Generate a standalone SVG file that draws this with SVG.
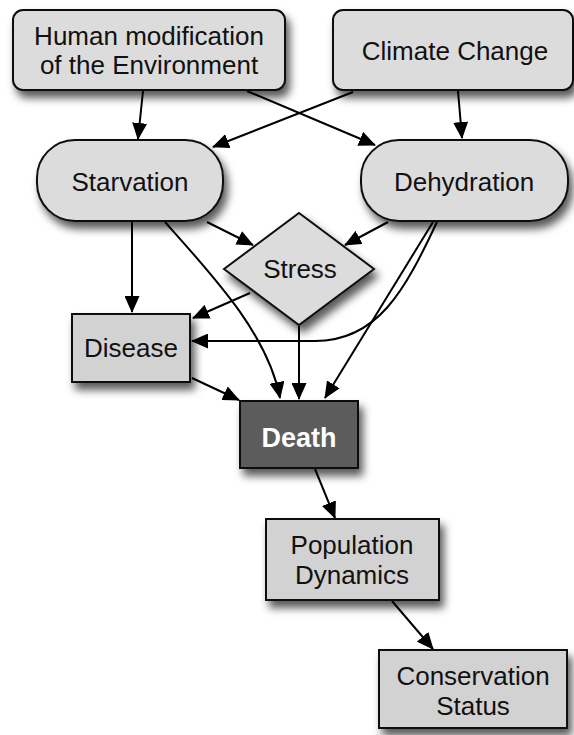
<svg xmlns="http://www.w3.org/2000/svg" width="574" height="735" viewBox="0 0 574 735">
<defs>
<filter id="sh" x="-20%" y="-20%" width="150%" height="160%">
<feDropShadow dx="4" dy="7" stdDeviation="4.5" flood-color="#000" flood-opacity="0.65"/>
</filter>
<marker id="ah" markerUnits="userSpaceOnUse" markerWidth="17" markerHeight="15" refX="16" refY="7.5" orient="auto">
<path d="M0,0 L17,7.5 L0,15 z" fill="#000"/>
</marker>
<style>
.n{fill:#dcdcdc;stroke:#111;stroke-width:2;filter:url(#sh)}
.b{fill:#d2d2d2;stroke:#111;stroke-width:2;filter:url(#sh)}
.d{fill:#5c5c5c;stroke:#111;stroke-width:2;filter:url(#sh)}
.t{font-family:"Liberation Sans",Arial,sans-serif;font-size:26px;fill:#111;text-anchor:middle}
.w{font-family:"Liberation Sans",Arial,sans-serif;font-size:27px;font-weight:bold;fill:#fff;text-anchor:middle}
.c{fill:none;stroke:#000;stroke-width:2;marker-end:url(#ah)}
</style>
</defs>
<g id="connectors">
<path class="c" d="M143,91 L138,139"/>
<path class="c" d="M247,91 L375,145"/>
<path class="c" d="M353,92 L213,147"/>
<path class="c" d="M458,91 L462,138"/>
<path class="c" d="M132,222 L132,312"/>
<path class="c" d="M207,222 L253,245"/>
<path class="c" d="M388,222 L345,245"/>
<path class="c" d="M165,222 C215,278 268,335 280,398"/>
<path class="c" d="M250,293 L193,318"/>
<path class="c" d="M299,326 L299,399"/>
<path class="c" d="M437,222 C405,290 378,341 315,341 L192,341"/>
<path class="c" d="M433,222 L325,398"/>
<path class="c" d="M192,378 L239,400"/>
<path class="c" d="M315,469 L335,518"/>
<path class="c" d="M392,601 L433,649"/>
</g>
<g id="human">
<rect class="n" x="13" y="10" width="272" height="80" rx="10"/>
<text class="t" x="149" y="45">Human modification</text>
<text class="t" x="149" y="74">of the Environment</text>
</g>
<g id="climate">
<rect class="n" x="333" y="10" width="240" height="80" rx="10"/>
<text class="t" x="455" y="60">Climate Change</text>
</g>
<g id="starvation">
<rect class="n" x="37" y="140" width="186" height="81" rx="38"/>
<text class="t" x="130" y="191">Starvation</text>
</g>
<g id="dehydration">
<rect class="n" x="361" y="140" width="207" height="81" rx="38"/>
<text class="t" x="464" y="191">Dehydration</text>
</g>
<g id="stress">
<polygon class="n" points="299,213 374,269 299,325 224,269"/>
<text class="t" x="300" y="278">Stress</text>
</g>
<g id="disease">
<rect class="b" x="72" y="314" width="118" height="68"/>
<text class="t" x="131" y="357">Disease</text>
</g>
<g id="death">
<rect class="d" x="240" y="401" width="118" height="67"/>
<text class="w" x="299" y="447">Death</text>
</g>
<g id="population">
<rect class="b" x="266" y="519" width="173" height="81"/>
<text class="t" x="352" y="554">Population</text>
<text class="t" x="352" y="584">Dynamics</text>
</g>
<g id="conservation">
<rect class="b" x="379" y="650" width="188" height="78"/>
<text class="t" x="473" y="685">Conservation</text>
<text class="t" x="473" y="715">Status</text>
</g>
</svg>
